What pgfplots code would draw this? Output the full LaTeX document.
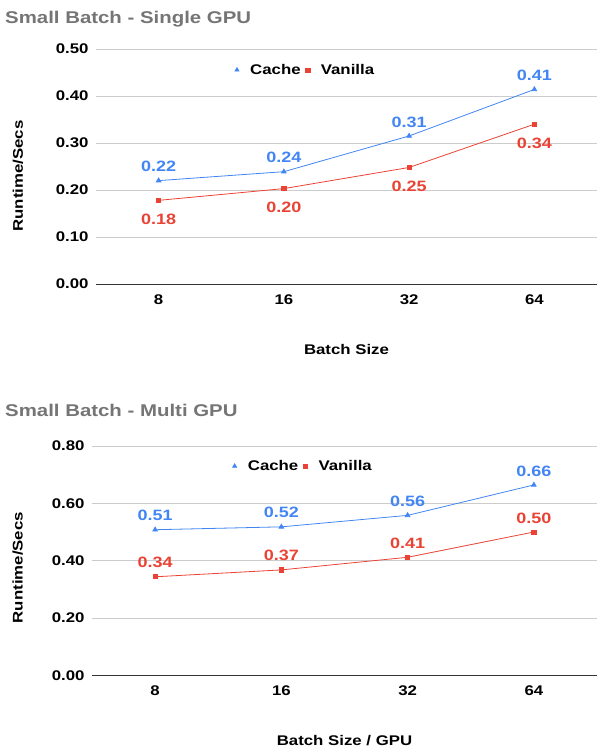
\documentclass[border=0pt]{standalone}
\usepackage{pgfplots}
\pgfplotsset{compat=1.18}
\usepackage{fontspec}
\setmainfont{Liberation Sans}[FakeStretch=1.2]
\definecolor{cblue}{HTML}{4285F4}
\definecolor{cred}{HTML}{EA4335}
\definecolor{ctitle}{HTML}{757575}
\definecolor{cgrid}{HTML}{CCCCCC}
\definecolor{caxis}{HTML}{333333}

\pgfplotsset{
  gchart/.style={
    scale only axis,
    anchor=south west,
    xmin=-0.5, xmax=3.5,
    xtick={0,1,2,3},
    xticklabels={8,16,32,64},
    ymajorgrids,
    grid style={cgrid, line width=0.8pt},
    axis x line=bottom,
    axis y line=left,
    x axis line style={-, caxis, line width=0.9pt},
    y axis line style={draw=none},
    major tick length=0pt,
    tick label style={font=\fontsize{14}{16}\selectfont\bfseries},
    xticklabel style={yshift=-7pt},
    yticklabel style={xshift=-4pt},
    label style={font=\fontsize{14}{16}\selectfont\bfseries},
    xlabel style={at={(axis description cs:0.5,0)}, anchor=center, yshift=-65pt},
    legend style={draw=none, fill=none, font=\fontsize{14}{16}\selectfont\bfseries,
      legend cell align=left,
      /tikz/every even column/.append style={column sep=3pt},
      /tikz/every odd column/.append style={column sep=9pt}},
    legend columns=2,
    clip=false,
    nodes near coords,
    point meta=explicit symbolic,
    every node near coord/.append style={font=\fontsize{15}{17}\selectfont\bfseries},
  },
  cache/.style={cblue, line width=0.8pt, mark=triangle*, mark size=2.6pt,
    every node near coord/.append style={cblue, anchor=south, yshift=5pt}},
  vanilla/.style={cred, line width=0.8pt, mark=square*, mark size=2.1pt},
}

\begin{document}
\begin{tikzpicture}
\path[use as bounding box] (0,0) rectangle (597pt,-753pt);

\node[anchor=base west, inner sep=0pt, text=ctitle, font=\fontsize{17}{20}\selectfont\bfseries] at (5pt,-23pt) {Small Batch - Single GPU};

\begin{axis}[gchart,
  at={(96pt,-284pt)}, width=501pt, height=235pt,
  ymin=0, ymax=0.5,
  ytick={0,0.1,0.2,0.3,0.4,0.5},
  yticklabels={0.00,0.10,0.20,0.30,0.40,0.50},
  xlabel={Batch Size},
  ylabel={Runtime/Secs},
  ylabel style={at={(axis description cs:-0.156,0.46)}, anchor=center},
  legend style={at={(axis description cs:0.418,0.911)}, anchor=center},
]
\addlegendimage{only marks, mark=triangle*, cblue, mark size=2.6pt}
\addlegendentry{Cache}
\addlegendimage{only marks, mark=square*, cred, mark size=2.1pt}
\addlegendentry{Vanilla}
\addplot[cache, forget plot] coordinates {
(0,0.220) [0.22]
(1,0.239) [0.24]
(2,0.315) [0.31]
(3,0.414) [0.41]
};
\addplot[vanilla, forget plot,
  every node near coord/.append style={cred, anchor=north, yshift=-10pt}] coordinates {
(0,0.178) [0.18]
(1,0.203) [0.20]
(2,0.248) [0.25]
(3,0.340) [0.34]
};
\end{axis}

\node[anchor=base west, inner sep=0pt, text=ctitle, font=\fontsize{17}{20}\selectfont\bfseries] at (5pt,-416pt) {Small Batch - Multi GPU};

\begin{axis}[gchart,
  at={(92pt,-675.5pt)}, width=505pt, height=229.6pt,
  ymin=0, ymax=0.8,
  ytick={0,0.2,0.4,0.6,0.8},
  yticklabels={0.00,0.20,0.40,0.60,0.80},
  xlabel={Batch Size / GPU},
  ylabel={Runtime/Secs},
  ylabel style={at={(axis description cs:-0.147,0.47)}, anchor=center},
  legend style={at={(axis description cs:0.418,0.912)}, anchor=center},
]
\addlegendimage{only marks, mark=triangle*, cblue, mark size=2.6pt}
\addlegendentry{Cache}
\addlegendimage{only marks, mark=square*, cred, mark size=2.1pt}
\addlegendentry{Vanilla}
\addplot[cache, forget plot] coordinates {
(0,0.508) [0.51]
(1,0.518) [0.52]
(2,0.558) [0.56]
(3,0.664) [0.66]
};
\addplot[vanilla, forget plot,
  every node near coord/.append style={cred, anchor=south, yshift=5pt}] coordinates {
(0,0.344) [0.34]
(1,0.368) [0.37]
(2,0.412) [0.41]
(3,0.500) [0.50]
};
\end{axis}
\end{tikzpicture}
\end{document}
